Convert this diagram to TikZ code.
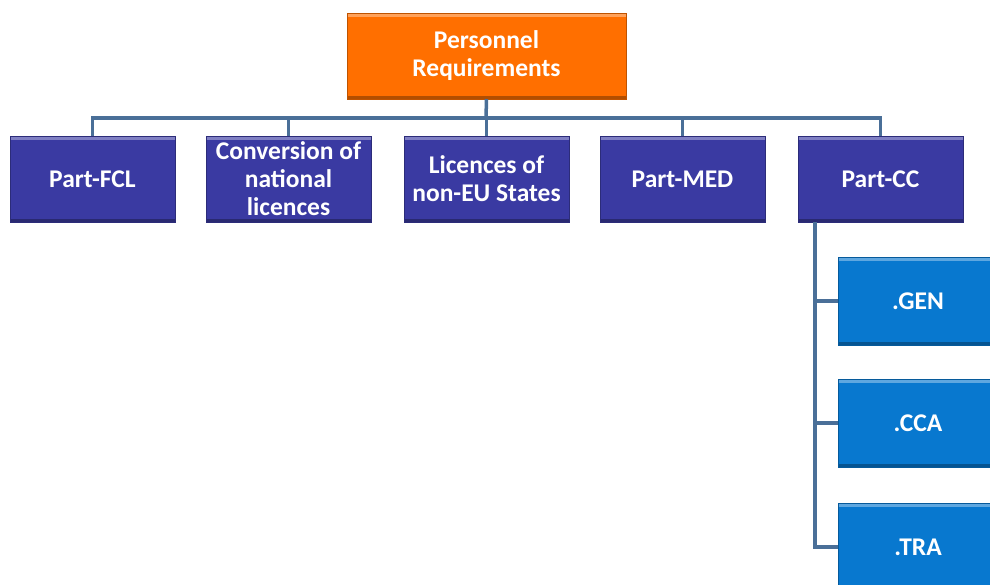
\documentclass[tikz,border=0pt]{standalone}
\usepackage{fontspec}
\setmainfont{Carlito}
\begin{document}
\begin{tikzpicture}[x=1pt,y=-1pt,
  lvlbox/.style={draw=#1!75!black, fill=#1, line width=1pt, inner sep=0pt, outer sep=0pt, anchor=north west,
     text=white, font=\bfseries\fontsize{25.5}{28}\selectfont, align=center,
     path picture={
       \fill[#1!65!white] (path picture bounding box.north west) rectangle ([yshift=-4pt]path picture bounding box.north east);
       \fill[#1!70!black] (path picture bounding box.south west) rectangle ([yshift=3pt]path picture bounding box.south east);
     }},
  topbox/.style={lvlbox=topc, minimum width=279pt, minimum height=86pt},
  midbox/.style={lvlbox=midc, minimum width=165pt, minimum height=86pt},
  subbox/.style={lvlbox=subc, minimum width=160pt, minimum height=88pt},
  conn/.style={draw=connc, line width=3.5pt}
]
\definecolor{topc}{HTML}{FF6F00}
\definecolor{midc}{HTML}{3A3AA2}
\definecolor{subc}{HTML}{0878CF}
\definecolor{connc}{HTML}{4A6F98}
\useasboundingbox (0,0) rectangle (990,584);
\clip (0,0) rectangle (990,584);
\fill[white] (0,0) rectangle (990,584);

\node[topbox] (top) at (347,13) {Personnel\\Requirements};
\node[midbox] (fcl) at (10,136) {Part-FCL};
\node[midbox] (conv) at (206,136) {};
\node[font=\bfseries\fontsize{25.5}{28}\selectfont, text=white, align=center] (convt) at (conv.center) {Conversion of\\national\\licences};
\node[midbox] (lic) at (404,136) {Licences of\\non-EU States};
\node[midbox] (med) at (600,136) {Part-MED};
\node[midbox] (cc) at (798,136) {Part-CC};
\node[subbox] (gen) at (838,257) {.GEN};
\node[subbox] (cca) at (838,379) {.CCA};
\node[subbox] (tra) at (838,503) {.TRA};

\coordinate (bus) at (486,118);
\coordinate (v) at (815,0);
\draw[conn] (top.south) -- (bus);
\draw[conn] (fcl.north) |- (bus) -| (cc.north);
\draw[conn] (conv.north) -- (conv.north |- bus);
\draw[conn] (lic.north) -- (lic.north |- bus);
\draw[conn] (med.north) -- (med.north |- bus);
\draw[conn, line join=miter] (cc.south -| v) |- (tra.west);
\draw[conn] (v |- gen.west) -- (gen.west);
\draw[conn] (v |- cca.west) -- (cca.west);
\end{tikzpicture}
\end{document}
